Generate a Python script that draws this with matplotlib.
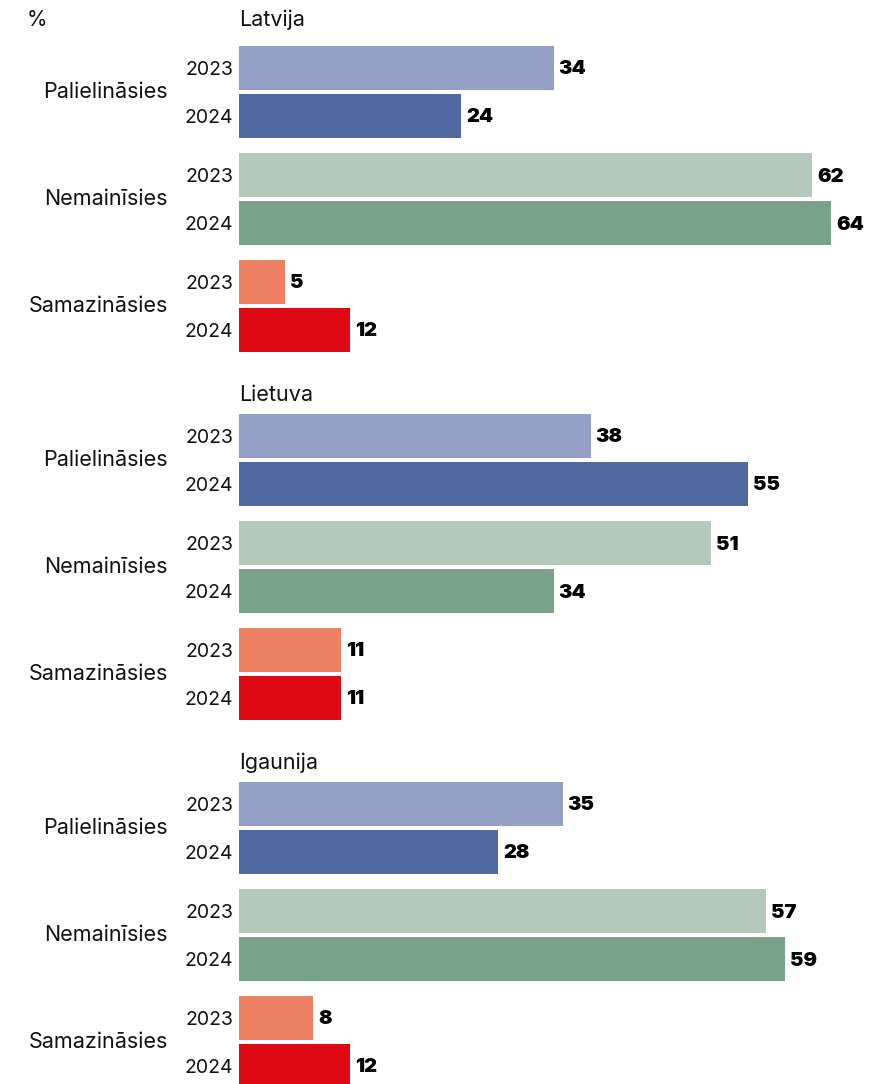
import matplotlib
matplotlib.use("Agg")
import matplotlib.pyplot as plt

valstis = ['Latvija', 'Lietuva', 'Igaunija']
kategorijas = ['Palielināsies', 'Nemainīsies', 'Samazināsies']
gadi = ['2023', '2024']

# vertibas [valsts][kategorija][gads]
vertibas = [
    [[34, 24], [62, 64], [5, 12]],
    [[38, 55], [51, 34], [11, 11]],
    [[35, 28], [57, 59], [8, 12]],
]

krasas = [
    ['#939fc5', '#506aa1'],
    ['#b5c8bc', '#7aa28b'],
    ['#ed8062', '#dc0912'],
]

plt.rcParams['font.family'] = ['Inter', 'DejaVu Sans']

W, H = 873, 1084
fig = plt.figure(figsize=(W / 100, H / 100), dpi=100)
x0 = 239
px_per_unit = 9.25
ax = fig.add_axes([x0 / W, 0, 1 - x0 / W, 1])
ax.set_xlim(0, (W - x0) / px_per_unit)
ax.set_ylim(H, 0)
ax.axis('off')

panel_step = 368
kat_step = 107
gads_step = 48
bar_h = 44
first_top = 46


def px2x(px):
    return (px - x0) / px_per_unit


for p, valsts in enumerate(valstis):
    top = first_top + p * panel_step
    title_y = 26 if p == 0 else top - 13
    ax.text(0, title_y, valsts, fontsize=15.5, va='baseline', ha='left', color='#111111')
    for c, kat in enumerate(kategorijas):
        y_kat = top + c * kat_step
        for g, gads in enumerate(gadi):
            yc = y_kat + g * gads_step + bar_h / 2
            v = vertibas[p][c][g]
            ax.barh(yc, v, height=bar_h, color=krasas[c][g], left=0)
            ax.text(v + 5 / px_per_unit, yc + 1.5, str(v), fontsize=14.5, fontweight='black',
                    va='center', ha='left', color='#000000')
            ax.text(px2x(233), yc + 2, gads, fontsize=14, va='center', ha='right',
                    color='#111111', clip_on=False)
        ax.text(px2x(168), y_kat + (gads_step + bar_h) / 2, kat, fontsize=15.5,
                va='center', ha='right', color='#111111', clip_on=False)

ax.text(px2x(27), 26, '%', fontsize=15, va='baseline', ha='left', color='#111111', clip_on=False)

fig.savefig('out.png', dpi=100)
